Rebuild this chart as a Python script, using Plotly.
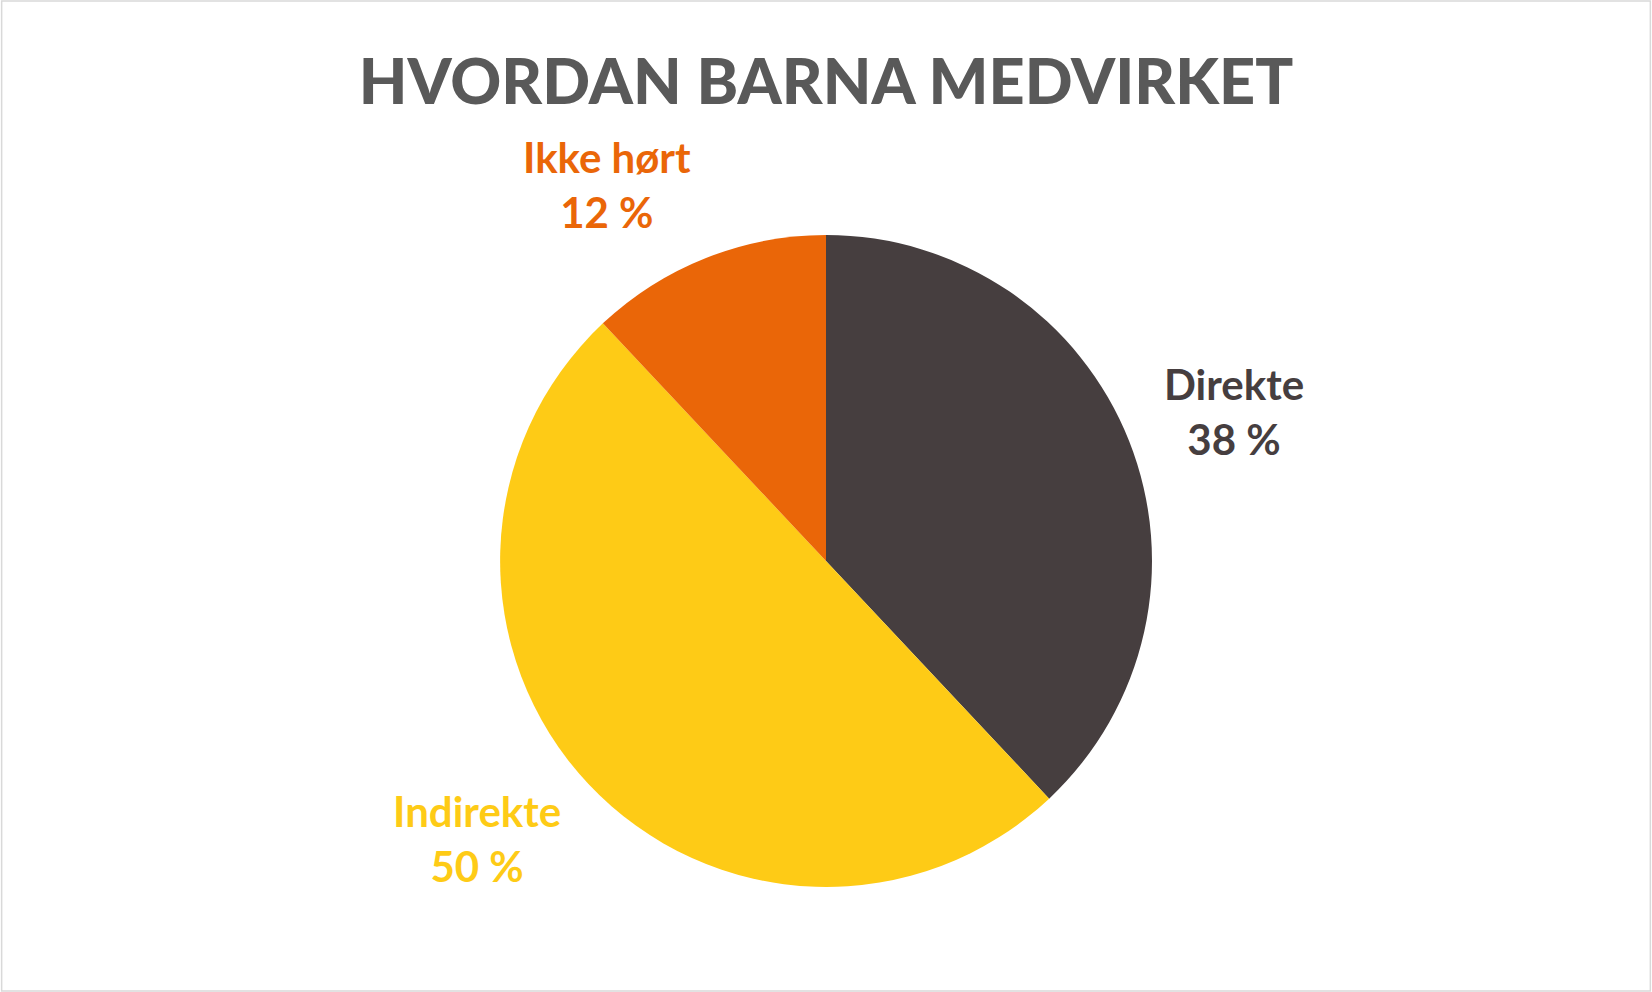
import math
import plotly.graph_objects as go

# data
categories = ["Direkte", "Indirekte", "Ikke hørt"]
shares = [38, 50, 12]
slice_colors = ["#463E3F", "#FECB16", "#EA6608"]
chart_title = "HVORDAN BARNA MEDVIRKET"

W, H = 1652, 992
cx, cy, r = 826, 561, 326   # pie centre / radius in px (from top-left)
FONT = "Lato"

fig = go.Figure()
fig.add_trace(go.Pie(
    labels=categories, values=shares, sort=False,
    direction="clockwise", rotation=0,
    marker=dict(colors=slice_colors, line=dict(width=0)),
    textinfo="none", hoverinfo="label+percent",
    domain=dict(x=[(cx - r) / W, (cx + r) / W],
                y=[(H - cy - r) / H, (H - cy + r) / H]),
    showlegend=False,
))

# data labels outside each slice, Excel "outside end" style:
# label sits beside the mid-angle point, left/right by side, sliding vertically
total = sum(shares)
start = 0.0
annos = []
for name, val, col in zip(categories, shares, slice_colors):
    mid = (start + val / 2) / total * 2 * math.pi
    start += val
    dx, dy = math.sin(mid), -math.cos(mid)
    d = r + 35
    px_ = cx + d * dx
    py_ = cy + d * dy + 44 * dy
    annos.append(dict(
        x=px_ / W, y=1 - py_ / H, xref="paper", yref="paper",
        text=f"<b>{name}<br>{val} %</b>", showarrow=False,
        xanchor="left" if dx > 0 else "right", yanchor="middle", align="center",
        font=dict(family=FONT, size=42, color=col),
    ))

fig.update_layout(
    width=W, height=H,
    margin=dict(l=0, r=0, t=0, b=0),
    paper_bgcolor="white",
    title=dict(text=chart_title, x=0.5, xanchor="center",
               y=1 - 82 / H, yanchor="middle",
               font=dict(family=FONT, size=63, color="#595959", weight=900)),
    annotations=annos,
    shapes=[dict(type="rect", xref="paper", yref="paper",
                 x0=0.001, y0=0.001, x1=0.999, y1=0.999,
                 line=dict(color="#D9D9D9", width=1.5))],
)

fig.write_html("out.html", config={"displayModeBar": False},
               post_script="document.body.style.margin='0';document.body.style.overflow='hidden';")
